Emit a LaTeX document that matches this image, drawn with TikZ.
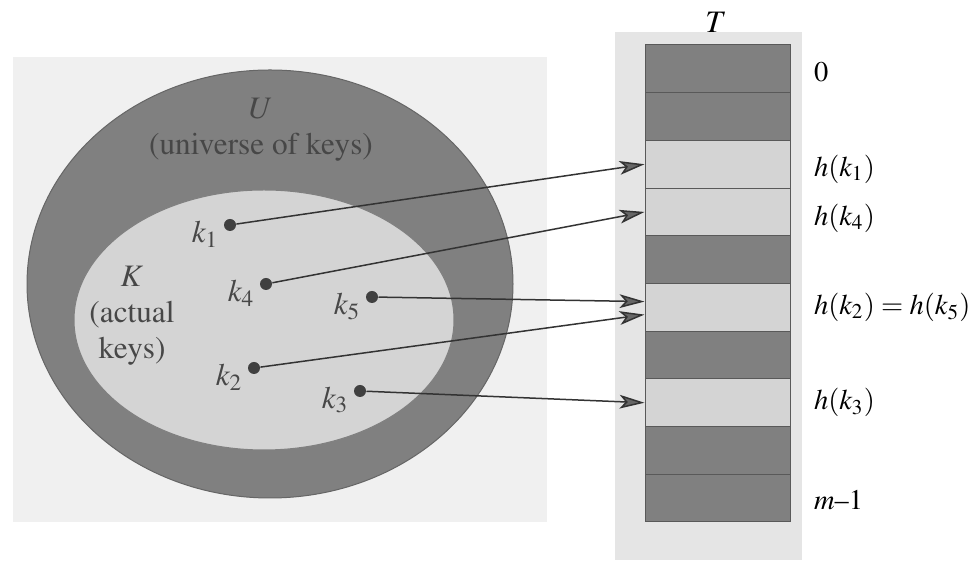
\documentclass[tikz,border=0pt]{standalone}
\usepackage[T1]{fontenc}
\usepackage{mathptmx}
\usepackage{tikz}
\usetikzlibrary{arrows.meta}
\tikzset{>={Stealth[length=10pt,width=5.5pt,inset=2.5pt,fill=black!60]}}
\colorlet{darkcol}{black!50}
\colorlet{lightcol}{black!17}
\colorlet{keycol}{black!72}
\tikzstyle{keydot}=[circle,fill=black!75,inner sep=0pt,minimum size=4.8pt]
\tikzstyle{keylbl}=[text=keycol,anchor=east,inner sep=0pt]
\tikzstyle{slot}=[draw=black!65,line width=0.4pt,minimum width=58pt,minimum height=19.08pt,inner sep=0pt]
\tikzstyle{hashto}=[->,draw=black!80,line width=0.6pt]
\tikzstyle{slotlbl}=[anchor=west,inner sep=0pt,font=\fontsize{11.4}{13}\selectfont]

\begin{document}
\begin{tikzpicture}[x=0.4pt,y=-0.4pt,font=\fontsize{12.5}{14.4}\selectfont]
  \def\tabtop{45}
  \def\rowh{47.7}
  \useasboundingbox (0,0) rectangle (974,564);
  % stippled backgrounds
  \fill[black!6] (13,57) rectangle (547,522);
  \fill[black!10] (615,32) rectangle (802,560);
  % universe U and actual keys K
  \draw[fill=darkcol,draw=black!60] (270,284) ellipse [x radius=243,y radius=214];
  \draw[fill=lightcol,draw=black!50] (264,320) ellipse [x radius=190,y radius=130];
  \node[text=black!72,align=center] (univ) at (261,130) {$U$\\(universe of keys)};
  \node[text=keycol,align=center] (actual) at (132,316) {$K$\\(actual\\keys)};
  \foreach \k/\x/\y in {1/230/225,4/266/284,5/372/297,2/254/368,3/360/391}{
    \node[keydot] (k\k) at (\x,\y) {};
    \node[keylbl] (lk\k) at ([shift={(-11,9)}]k\k.center) {$k_{\k}$};
  }
  % table T
  \foreach \i/\c in {0/darkcol,1/darkcol,2/lightcol,3/lightcol,4/darkcol,5/lightcol,6/darkcol,7/lightcol,8/darkcol,9/darkcol}
    \node[slot,fill=\c] (r\i) at (717.5,{\tabtop+\rowh*(\i+0.5)}) {};
  \node (tname) at (716,22) {$T$};
  \node[slotlbl] (l0) at ([xshift=9.2pt,yshift=-1.2pt]r0.east) {0};
  \node[slotlbl] (l2) at ([xshift=9.2pt,yshift=-2pt]r2.east) {$h(k_1)$};
  \node[slotlbl] (l3) at ([xshift=9.2pt,yshift=-2.4pt]r3.east) {$h(k_4)$};
  \node[slotlbl] (l5) at ([xshift=9.2pt]r5.east) {$h(k_2) = h(k_5)$};
  \node[slotlbl] (l7) at ([xshift=9.2pt]r7.east) {$h(k_3)$};
  \node[slotlbl] (l9) at ([xshift=9.2pt,yshift=-0.8pt]r9.east) {$m$--1};
  % hashing
  \draw[hashto] (k1) -- (r2.west);
  \draw[hashto] (k4) -- (r3.west);
  \draw[hashto] (k5) -- ([yshift=2.3pt]r5.west);
  \draw[hashto] (k2) -- ([yshift=-2.9pt]r5.west);
  \draw[hashto] (k3) -- (r7.west);
\end{tikzpicture}
\end{document}
